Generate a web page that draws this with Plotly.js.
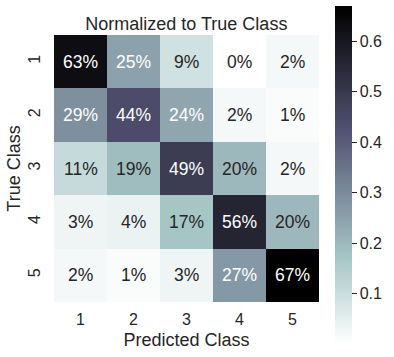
<!DOCTYPE html>
<html>
<head>
<meta charset="utf-8">
<script src="https://cdn.plot.ly/plotly-3.0.1.min.js"></script>
<style>html,body{margin:0;padding:0;background:#fff;}#chart{width:394px;height:357px;}</style>
</head>
<body>
<div id="chart"></div>
<script>
var predictedClasses = ["1", "2", "3", "4", "5"];
var trueClasses = ["1", "2", "3", "4", "5"];
var row1 = [0.63, 0.25, 0.09, 0.00, 0.02];
var row2 = [0.29, 0.44, 0.24, 0.02, 0.01];
var row3 = [0.11, 0.19, 0.49, 0.20, 0.02];
var row4 = [0.03, 0.04, 0.17, 0.56, 0.20];
var row5 = [0.02, 0.01, 0.03, 0.27, 0.67];
var colorbarTicks = [0.1, 0.2, 0.3, 0.4, 0.5, 0.6];

var z = [row1, row2, row3, row4, row5];
var boneR = [
  [0, 'rgb(255,255,255)'],
  [0.253968, 'rgb(166,198,198)'],
  [0.634921, 'rgb(81,81,113)'],
  [1, 'rgb(0,0,0)']
];
var font = "Liberation Sans, Arial, sans-serif";
var dark = '#262626';

var annotations = [];
for (var i = 0; i < trueClasses.length; i++) {
  for (var j = 0; j < predictedClasses.length; j++) {
    var v = z[i][j];
    annotations.push({
      x: j, y: i, xref: 'x', yref: 'y',
      text: Math.round(v * 100) + '%', showarrow: false,
      font: {family: font, size: 17.5, color: v >= 0.22 ? '#ffffff' : dark}
    });
  }
}

var trace = {
  type: 'heatmap', x: predictedClasses, y: trueClasses, z: z,
  colorscale: boneR, xgap: 0, ygap: 0, hoverinfo: 'none',
  colorbar: {
    thickness: 17, thicknessmode: 'pixels',
    len: 338, lenmode: 'pixels',
    x: 1.06, xanchor: 'left', xpad: 0,
    y: 0.476, yanchor: 'middle', ypad: 0,
    outlinewidth: 0,
    tickvals: colorbarTicks, ticks: 'outside', ticklen: 5, tickwidth: 1, tickcolor: dark,
    tickfont: {family: font, size: 16, color: dark}
  }
};

var layout = {
  width: 394, height: 357,
  margin: {l: 54, r: 72, t: 35, b: 55, pad: 0},
  paper_bgcolor: '#fff', plot_bgcolor: '#fff',
  font: {family: font, color: dark},
  title: {text: 'Normalized to True Class', font: {family: font, size: 18, color: dark}, x: 0.473, xanchor: 'center', y: 0.935, yanchor: 'middle'},
  xaxis: {type: 'category', showgrid: false, zeroline: false, ticks: '', ticklen: 0,
    ticklabelstandoff: 6,
    tickfont: {family: font, size: 16, color: dark},
    title: {text: 'Predicted Class', font: {family: font, size: 18, color: dark}, standoff: 6}},
  yaxis: {type: 'category', autorange: 'reversed', showgrid: false, zeroline: false, ticks: '', ticklen: 0,
    tickangle: -90, ticklabelstandoff: 10,
    tickfont: {family: font, size: 16, color: dark},
    title: {text: 'True Class', font: {family: font, size: 18, color: dark}, standoff: 0}},
  annotations: annotations
};

Plotly.newPlot('chart', [trace], layout, {displayModeBar: false, staticPlot: true});
</script>
</body>
</html>
